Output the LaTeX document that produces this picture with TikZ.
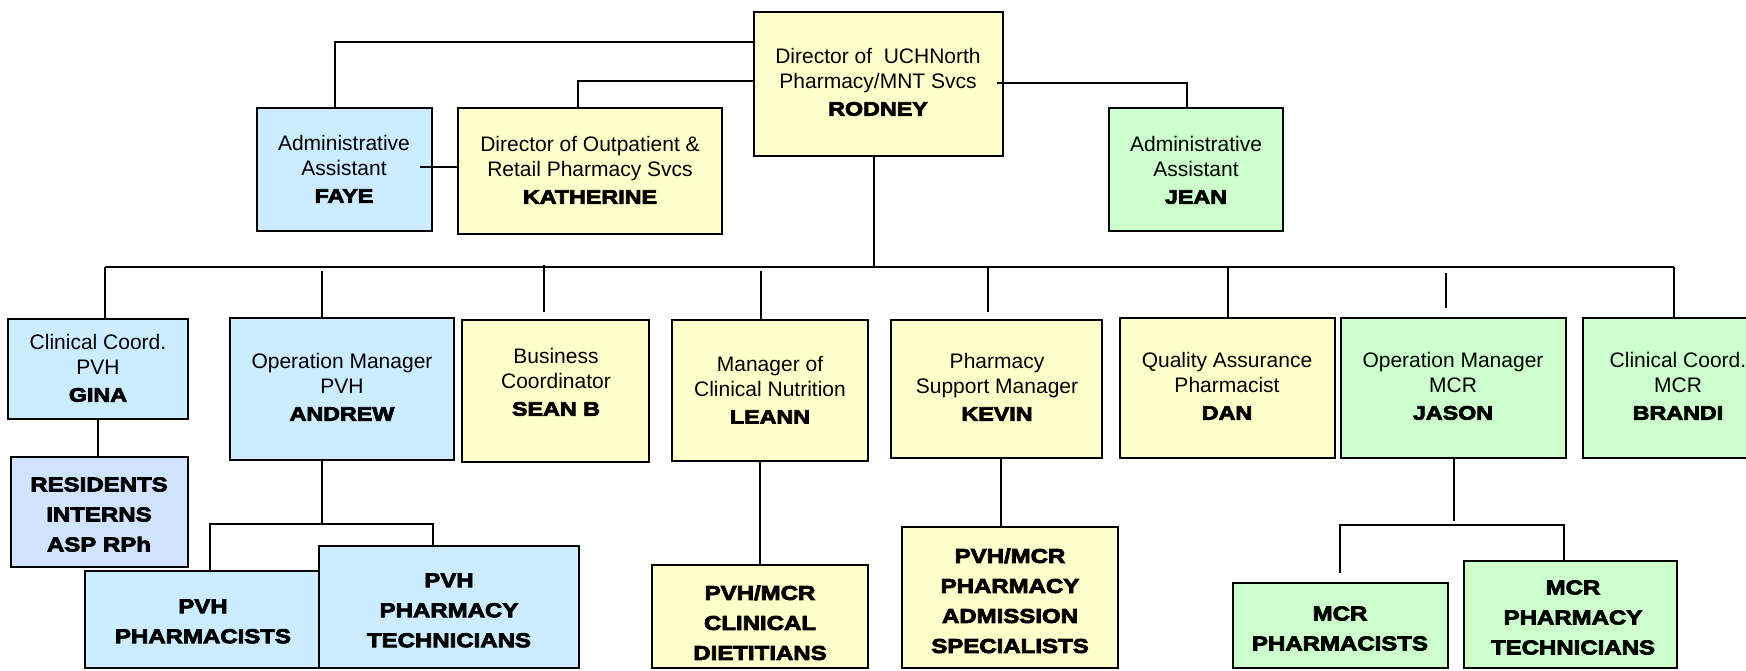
\documentclass[tikz,border=0pt]{standalone}
\usepackage{fontspec}
\setmainfont{Liberation Sans}
\newfontface\heavyfont{Liberation Sans Bold}[FakeStretch=1.2,FakeBold=4]
\usetikzlibrary{fit,calc}
\definecolor{uyellow}{RGB}{255,255,204}
\definecolor{ublue}{RGB}{204,236,255}
\definecolor{ugreen}{RGB}{204,255,204}
\definecolor{ures}{RGB}{208,228,255}
\newcommand{\pname}[1]{{\heavyfont\fontsize{9.7}{12.5}\selectfont #1}}
\tikzset{
  box/.style={draw=black, line width=1pt, inner sep=0pt},
  ybox/.style={box, fill=uyellow},
  bbox/.style={box, fill=ublue},
  gbox/.style={box, fill=ugreen},
  rbox/.style={box, fill=ures},
  lbl/.style={align=center, anchor=north, inner sep=0pt, font=\fontsize{10.5}{12.5}\selectfont},
  grp/.style={align=center, anchor=north, inner sep=0pt, font=\heavyfont\fontsize{10}{15}\selectfont},
  conn/.style={line width=0.75pt}
}
\begin{document}
\begin{tikzpicture}[x=0.5pt,y=-0.5pt]
\useasboundingbox (0,0) rectangle (1746,670);
\clip (0,0) rectangle (1746,670);
% boxes
\node[ybox, fit={(754,12)(1003,156)}] (rodney) {};
\node[bbox, fit={(257,108)(432,231)}] (faye) {};
\node[ybox, fit={(458,108)(722,234)}] (kath) {};
\node[gbox, fit={(1109,108)(1283,231)}] (jean) {};
\node[bbox, fit={(8,319)(188,419)}] (gina) {};
\node[bbox, fit={(230,318)(454,460)}] (andrew) {};
\node[ybox, fit={(462,320)(649,462)}] (sean) {};
\node[ybox, fit={(672,320)(868,461)}] (leann) {};
\node[ybox, fit={(891,320)(1102,458)}] (kevin) {};
\node[ybox, fit={(1120,318)(1335,458)}] (dan) {};
\node[gbox, fit={(1341,318)(1566,458)}] (jason) {};
\node[gbox, fit={(1583,318)(1775,458)}] (brandi) {};
\node[rbox, fit={(11,457)(188,567)}] (res) {};
\node[bbox, fit={(85,571)(321,668)}] (pvhph) {};
\node[bbox, fit={(319,546)(579,668)}] (pvhtech) {};
\node[ybox, fit={(652,565)(868,668)}] (diet) {};
\node[ybox, fit={(902,527)(1118,668)}] (adm) {};
\node[gbox, fit={(1233,583)(1448,668)}] (mcrph) {};
\node[gbox, fit={(1464,561)(1677,668)}] (mcrtech) {};
% top connectors
\draw[conn] ($(rodney.north west)+(0,31)$) -| ($(faye.north west)+(79,0)$);
\draw[conn] ($(rodney.north west)+(0,70)$) -| ($(kath.north west)+(121,0)$);
\draw[conn] ($(rodney.north east)+(-7,72)$) -| ($(jean.north west)+(79,0)$);
\draw[conn] ($(faye.north east)+(-13,60)$) coordinate (fk) -- (fk -| kath.west);
% bus
\coordinate (busL) at (105,267);
\coordinate (busR) at (1674,267);
\draw[conn] (busL) -- (busR);
\draw[conn] ($(rodney.south)+(-4.5,0)$) coordinate (rd) -- (rd |- busL);
\draw[conn] (busL) -- (busL |- gina.north);
\coordinate (b-andrew) at (322,271);
\draw[conn] (b-andrew) -- (b-andrew |- andrew.north);
\coordinate (b-sean) at (544,265);
\draw[conn] (b-sean) -- ($(b-sean |- sean.north)+(0,-7)$);
\coordinate (b-leann) at (761,271);
\draw[conn] (b-leann) -- (b-leann |- leann.north);
\coordinate (b-kevin) at (988,267);
\draw[conn] (b-kevin) -- ($(b-kevin |- kevin.north)+(0,-7)$);
\coordinate (b-dan) at (1228,267);
\draw[conn] (b-dan) -- (b-dan |- dan.north);
\coordinate (b-jason) at (1446,273);
\draw[conn] (b-jason) -- ($(b-jason |- jason.north)+(0,-9)$);
\draw[conn] (busR) -- (busR |- brandi.north);
% lower connectors
\draw[conn] (gina.south) -- (gina.south |- res.north);
\coordinate (a-j) at (322,524);
\draw[conn] (a-j |- andrew.south) -- (a-j);
\draw[conn] ($(pvhph.north west)+(126,0)$) |- (a-j) -| ($(pvhtech.north west)+(115,0)$);
\draw[conn] (diet.north) -- (diet.north |- leann.south);
\draw[conn] ($(adm.north west)+(100,0)$) coordinate (kd) -- (kd |- kevin.south);
\draw[conn] ($(jason.south)+(0.5,0)$) -- ++(0,62);
\draw[conn] ($(mcrph.north west)+(108,-9)$) |- ($(mcrtech.north west)+(101,-35)$) -- ($(mcrtech.north west)+(101,0)$);
% texts
\node[lbl] (t-rodney) at (878,48) {Director of\ \ UCHNorth\\Pharmacy/MNT Svcs\\[1pt]\pname{RODNEY}};
\node[lbl] (t-faye) at (344,135) {Administrative\\Assistant\\[1pt]\pname{FAYE}};
\node[lbl] (t-kath) at (590,136) {Director of Outpatient \&\\Retail Pharmacy Svcs\\[1pt]\pname{KATHERINE}};
\node[lbl] (t-jean) at (1196,136) {Administrative\\Assistant\\[1pt]\pname{JEAN}};
\node[lbl] (t-gina) at (98,334) {Clinical Coord.\\PVH\\[1pt]\pname{GINA}};
\node[lbl] (t-andrew) at (342,353) {Operation Manager\\PVH\\[1pt]\pname{ANDREW}};
\node[lbl] (t-sean) at (556,348) {Business\\Coordinator\\[1pt]\pname{SEAN B}};
\node[lbl] (t-leann) at (770,356) {Manager of\\Clinical Nutrition\\[1pt]\pname{LEANN}};
\node[lbl] (t-kevin) at (997,353) {Pharmacy\\Support Manager\\[1pt]\pname{KEVIN}};
\node[lbl] (t-dan) at (1227,352) {Quality Assurance\\Pharmacist\\[1pt]\pname{DAN}};
\node[lbl] (t-jason) at (1453,352) {Operation Manager\\MCR\\[1pt]\pname{JASON}};
\node[lbl] (t-brandi) at (1678,352) {Clinical Coord.\\MCR\\[1pt]\pname{BRANDI}};
\node[grp] (t-res) at (99,477) {RESIDENTS\\INTERNS\\ASP RPh};
\node[grp] (t-pvhph) at (203,599) {PVH\\PHARMACISTS};
\node[grp] (t-pvhtech) at (449,573) {PVH\\PHARMACY\\TECHNICIANS};
\node[grp] (t-diet) at (760,585) {PVH/MCR\\CLINICAL\\DIETITIANS};
\node[grp] (t-adm) at (1010,548) {PVH/MCR\\PHARMACY\\ADMISSION\\SPECIALISTS};
\node[grp] (t-mcrph) at (1340,606) {MCR\\PHARMACISTS};
\node[grp] (t-mcrtech) at (1573,580) {MCR\\PHARMACY\\TECHNICIANS};
\end{tikzpicture}
\end{document}
